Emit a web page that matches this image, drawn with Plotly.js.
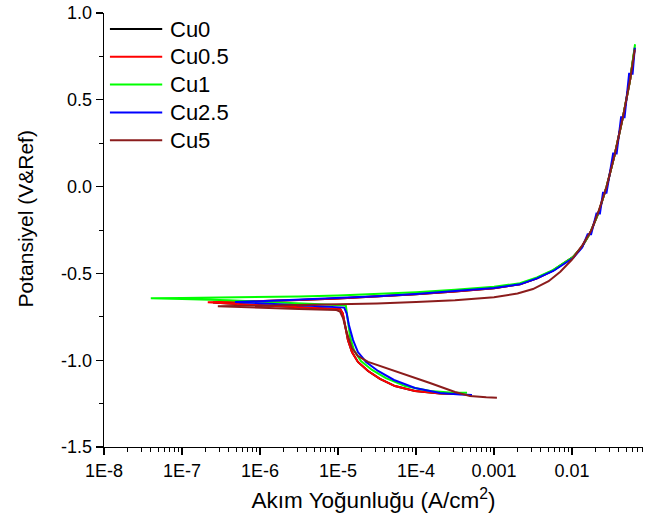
<!DOCTYPE html>
<html>
<head>
<meta charset="utf-8">
<script src="https://cdn.plot.ly/plotly-3.0.1.min.js"></script>
<style>
  html, body { margin: 0; padding: 0; background: #ffffff; }
  #chart { width: 657px; height: 522px; }
</style>
</head>
<body>
<div id="chart"></div>
<script>
// Potentiodynamic polarization (Tafel) curves: potential vs. current density
const seriesNames  = ['Cu0', 'Cu0.5', 'Cu1', 'Cu2.5', 'Cu5'];
const seriesColors = ['#000000', '#ff0000', '#00ff00', '#0000ff', '#8b1c1c'];

// Each series is listed in scan order: cathodic branch -> corrosion potential -> anodic branch
const cu0Current = [3.6e-4, 2.04e-4, 9.70e-5, 5.37e-5, 3.45e-5, 2.43e-5, 1.80e-5, 1.51e-5, 1.34e-5, 1.23e-5,
  1.15e-5, 1.07e-5, 6.31e-6, 2.51e-6, 1.0e-6, 3.98e-7, 2.5e-7, 5.01e-7, 1.0e-6, 3.16e-6,
  1.0e-5, 3.16e-5, 1.0e-4, 3.16e-4, 1.0e-3, 2.15e-3, 3.55e-3, 5.75e-3, 7.94e-3, 1.04e-2,
  1.35e-2, 1.70e-2, 2.17e-2, 2.78e-2, 3.56e-2, 4.55e-2, 5.55e-2, 6.3e-2];
const cu0Potential = [-1.195, -1.192, -1.177, -1.149, -1.108, -1.062, -1.01, -0.953, -0.884, -0.797,
  -0.73, -0.706, -0.700, -0.692, -0.683, -0.673, -0.667, -0.664, -0.661, -0.653,
  -0.644, -0.633, -0.620, -0.604, -0.585, -0.563, -0.528, -0.483, -0.442, -0.404,
  -0.345, -0.269, -0.154, 0.0, 0.192, 0.412, 0.614, 0.783];

const cu05Current = [3.89e-4, 2.04e-4, 9.70e-5, 5.37e-5, 3.45e-5, 2.43e-5, 1.80e-5, 1.51e-5, 1.34e-5, 1.23e-5,
  1.15e-5, 1.07e-5, 6.31e-6, 2.51e-6, 1.0e-6, 3.98e-7, 2.14e-7, 5.01e-7, 1.0e-6, 3.16e-6,
  1.0e-5, 3.16e-5, 1.0e-4, 3.16e-4, 1.0e-3, 2.15e-3, 3.55e-3, 5.75e-3, 7.94e-3, 1.04e-2,
  1.35e-2, 1.70e-2, 2.17e-2, 2.78e-2, 3.56e-2, 4.55e-2, 5.55e-2, 6.38e-2];
const cu05Potential = [-1.195, -1.192, -1.177, -1.149, -1.108, -1.062, -1.01, -0.953, -0.884, -0.797,
  -0.73, -0.706, -0.700, -0.692, -0.683, -0.673, -0.666, -0.664, -0.661, -0.653,
  -0.644, -0.633, -0.620, -0.604, -0.585, -0.563, -0.528, -0.483, -0.442, -0.404,
  -0.345, -0.269, -0.154, 0.0, 0.192, 0.412, 0.614, 0.80];

const cu1Current = [4.51e-4, 2.73e-4, 1.51e-4, 7.23e-5, 4.12e-5, 2.73e-5, 1.97e-5, 1.60e-5, 1.43e-5, 1.35e-5,
  1.29e-5, 1.26e-5, 5.01e-6, 1.58e-6, 3.98e-7, 1.0e-7, 3.98e-8, 1.0e-7, 3.16e-7, 1.0e-6,
  3.16e-6, 1.0e-5, 3.16e-5, 1.0e-4, 3.16e-4, 1.0e-3, 2.15e-3, 3.55e-3, 5.75e-3, 7.94e-3,
  1.04e-2, 1.35e-2, 1.70e-2, 2.17e-2, 2.78e-2, 3.56e-2, 4.55e-2, 5.55e-2, 6.43e-2];
const cu1Potential = [-1.187, -1.186, -1.177, -1.149, -1.103, -1.056, -1.005, -0.941, -0.866, -0.78,
  -0.71, -0.685, -0.676, -0.666, -0.655, -0.647, -0.643, -0.642, -0.640, -0.637,
  -0.633, -0.627, -0.619, -0.608, -0.594, -0.577, -0.557, -0.523, -0.48, -0.44,
  -0.404, -0.345, -0.269, -0.154, 0.0, 0.192, 0.412, 0.614, 0.82];

// Cu2.5 shows small current-range steps along the anodic branch
const cu25Current = [5.22e-4, 3.66e-4, 2.04e-4, 9.70e-5, 5.22e-5, 3.26e-5, 2.29e-5, 1.80e-5, 1.56e-5, 1.38e-5,
  1.29e-5, 1.20e-5, 5.01e-6, 1.58e-6, 7.94e-7, 4.79e-7, 1.0e-6, 3.16e-6, 1.0e-5, 3.16e-5,
  1.0e-4, 3.16e-4, 1.0e-3, 2.15e-3, 3.55e-3, 5.75e-3, 7.94e-3, 1.04e-2, 1.35e-2,
  1.585e-2, 1.758e-2, 2.056e-2, 2.28e-2, 2.495e-2, 2.767e-2, 3.365e-2, 3.733e-2, 4.256e-2, 4.72e-2,
  5.395e-2, 5.984e-2, 6.38e-2];
const cu25Potential = [-1.20, -1.198, -1.189, -1.16, -1.114, -1.062, -1.01, -0.953, -0.884, -0.797,
  -0.73, -0.697, -0.688, -0.677, -0.670, -0.665, -0.660, -0.652, -0.643, -0.632,
  -0.619, -0.603, -0.584, -0.563, -0.529, -0.486, -0.445, -0.41, -0.35,
  -0.275, -0.275, -0.155, -0.155, -0.035, -0.035, 0.19, 0.19, 0.40, 0.40,
  0.65, 0.65, 0.80];

const cu5Current = [1.09e-3, 7.94e-4, 4.92e-4, 3.16e-4, 1.51e-4, 6.24e-5, 2.43e-5, 1.80e-5, 1.51e-5, 1.30e-5,
  1.16e-5, 1.06e-5, 9.55e-6, 3.16e-6, 1.0e-6, 2.88e-7, 1.0e-6, 3.16e-6, 1.0e-5, 3.16e-5,
  1.0e-4, 3.16e-4, 1.0e-3, 2.0e-3, 3.16e-3, 5.01e-3, 7.08e-3, 1.0e-2, 1.35e-2, 1.78e-2,
  2.24e-2, 2.78e-2, 3.56e-2, 4.55e-2, 5.55e-2, 6.38e-2];
const cu5Potential = [-1.216, -1.214, -1.206, -1.183, -1.131, -1.074, -1.01, -0.976, -0.93, -0.843,
  -0.757, -0.72, -0.711, -0.705, -0.698, -0.689, -0.686, -0.683, -0.679, -0.673,
  -0.665, -0.654, -0.637, -0.616, -0.59, -0.545, -0.49, -0.42, -0.34, -0.25,
  -0.13, 0.0, 0.192, 0.412, 0.614, 0.79];

// Axis tick labels
const xTickValues = [1e-8, 1e-7, 1e-6, 1e-5, 1e-4, 1e-3, 1e-2];
const xTickLabels = ['1E-8', '1E-7', '1E-6', '1E-5', '1E-4', '0.001', '0.01'];
const yTickValues = [-1.5, -1.0, -0.5, 0.0, 0.5, 1.0];
const yTickLabels = ['-1.5', '-1.0', '-0.5', '0.0', '0.5', '1.0'];
const yMinorValues = [-1.25, -0.75, -0.25, 0.25, 0.75];

// Minor ticks at 2..9 of every decade on the log axis
const xMinorValues = [];
for (let d = -8; d <= -2; d++) {
  for (let m = 2; m <= 9; m++) {
    const v = m * Math.pow(10, d);
    if (v <= 0.08) xMinorValues.push(v);
  }
}

const currents   = [cu0Current, cu05Current, cu1Current, cu25Current, cu5Current];
const potentials = [cu0Potential, cu05Potential, cu1Potential, cu25Potential, cu5Potential];

const FONT = 'Liberation Sans, Arial, Helvetica, sans-serif';

const traces = seriesNames.map((name, k) => ({
  type: 'scatter',
  mode: 'lines',
  name: name,
  x: currents[k],
  y: potentials[k],
  line: { color: seriesColors[k], width: 2 },
  showlegend: false
}));

// Legend drawn as short line samples with labels, top-left inside the plot
const legendLineX0 = 0.011, legendLineX1 = 0.108, legendTextX = 0.119;
const legendTop = 0.963, legendStep = 0.064;
const legendShapes = seriesNames.map((name, k) => ({
  type: 'line', xref: 'paper', yref: 'paper',
  x0: legendLineX0, x1: legendLineX1,
  y0: legendTop - k * legendStep, y1: legendTop - k * legendStep,
  line: { color: seriesColors[k], width: 2 }
}));
const legendLabels = seriesNames.map((name, k) => ({
  xref: 'paper', yref: 'paper',
  x: legendTextX, y: legendTop - k * legendStep,
  xanchor: 'left', yanchor: 'middle',
  text: name, showarrow: false,
  font: { family: FONT, size: 22, color: '#000' }
}));

// Vertical axis title, placed beside the tick labels
const yTitle = {
  xref: 'paper', yref: 'paper',
  x: -0.146, y: 0.525,
  xanchor: 'center', yanchor: 'middle',
  textangle: -90,
  text: 'Potansiyel (V&amp;Ref)', showarrow: false,
  font: { family: FONT, size: 21, color: '#000' }
};

const layout = {
  width: 657,
  height: 522,
  margin: { l: 104, r: 14, t: 13, b: 75 },
  paper_bgcolor: '#ffffff',
  plot_bgcolor: '#ffffff',
  font: { family: FONT, color: '#000' },
  showlegend: false,
  xaxis: {
    type: 'log',
    range: [-8, -1.09],
    tickmode: 'array',
    tickvals: xTickValues,
    ticktext: xTickLabels,
    ticks: 'outside', ticklen: 7, tickwidth: 1.3, tickcolor: '#000',
    tickfont: { family: FONT, size: 18, color: '#000' },
    showline: true, linecolor: '#000', linewidth: 1.3,
    showgrid: false, zeroline: false,
    minor: {
      tickmode: 'array', tickvals: xMinorValues,
      ticks: 'outside', ticklen: 4, tickwidth: 1, tickcolor: '#000', showgrid: false
    },
    title: {
      text: 'Akım Yoğunluğu (A/cm<sup>2</sup>)',
      font: { family: FONT, size: 22.5, color: '#000' },
      standoff: 12
    }
  },
  yaxis: {
    range: [-1.5, 1.0],
    tickmode: 'array',
    tickvals: yTickValues,
    ticktext: yTickLabels,
    ticks: 'outside', ticklen: 7, tickwidth: 1.3, tickcolor: '#000',
    tickfont: { family: FONT, size: 18, color: '#000' },
    showline: true, linecolor: '#000', linewidth: 1.3,
    showgrid: false, zeroline: false,
    minor: {
      tickmode: 'array', tickvals: yMinorValues,
      ticks: 'outside', ticklen: 4, tickwidth: 1, tickcolor: '#000', showgrid: false
    }
  },
  shapes: legendShapes,
  annotations: legendLabels.concat([yTitle])
};

Plotly.newPlot('chart', traces, layout, { staticPlot: true, displayModeBar: false });
</script>
</body>
</html>
